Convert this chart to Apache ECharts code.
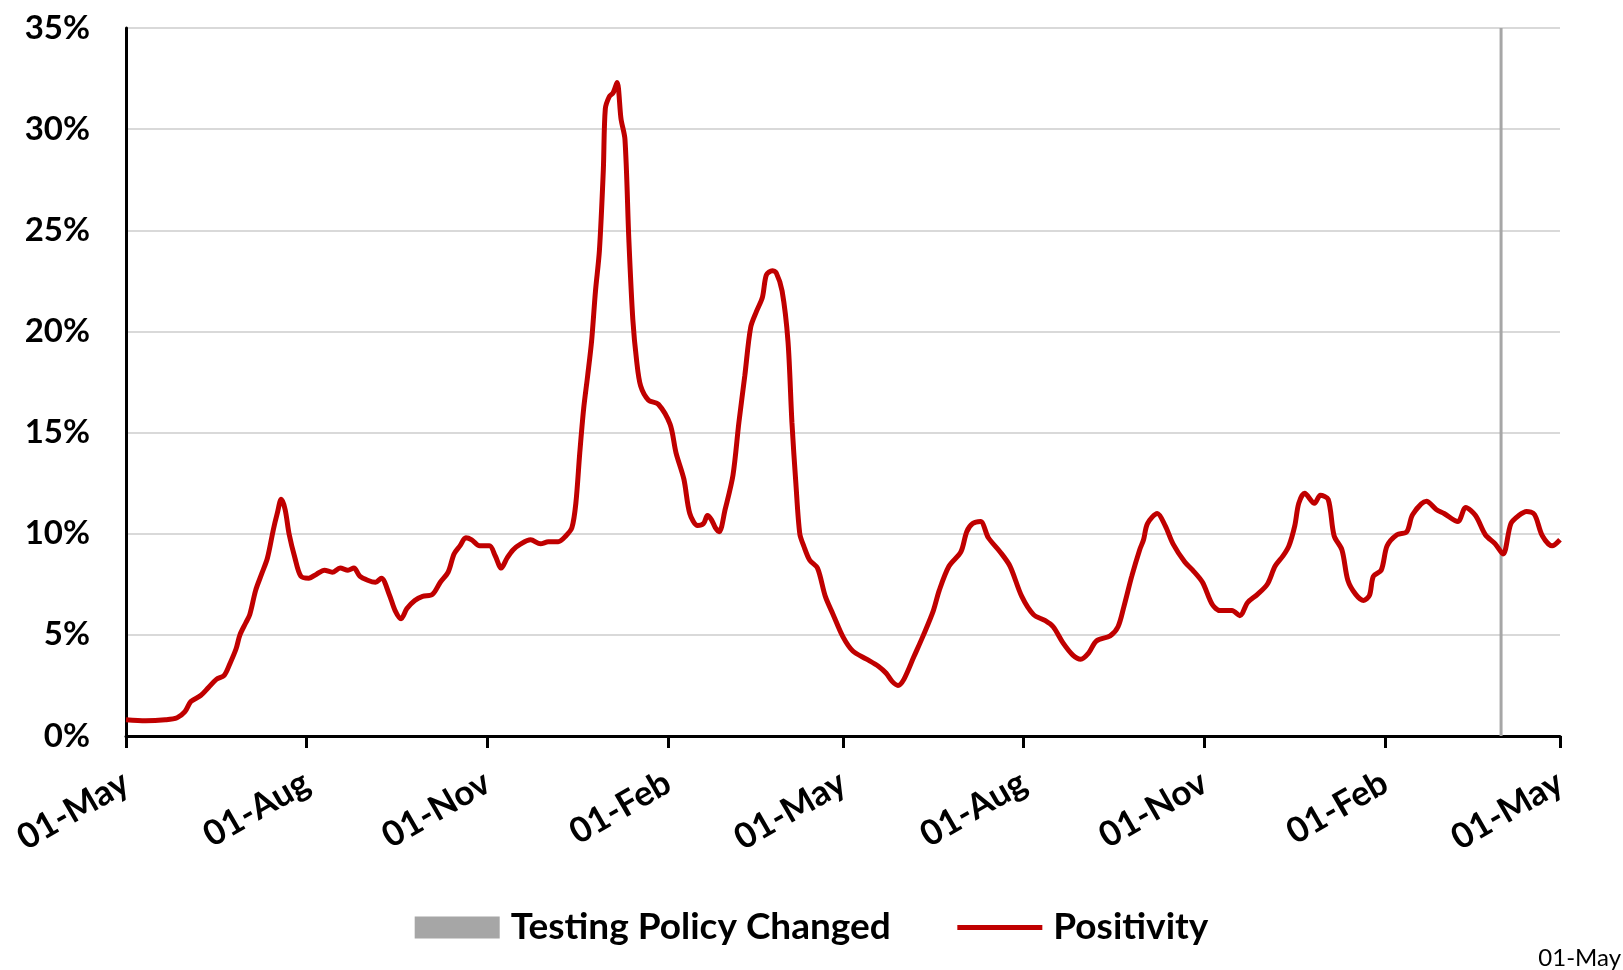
<!DOCTYPE html>
<html lang="en">
<head>
<meta charset="UTF-8">
<script src="https://cdn.jsdelivr.net/npm/echarts@6/dist/echarts.min.js"></script>
<title>Positivity</title>
<style>
    html, body { margin: 0; padding: 0; background: #fff; }
    #chart { width: 1623px; height: 970px; }
</style>
</head>
<body>
<div id="chart"></div>
<script type="text/javascript">
// daily positivity (%)
var dates = [
    '2020-05-01','2020-05-11','2020-05-21','2020-05-27','2020-05-31','2020-06-03','2020-06-08','2020-06-12',
    '2020-06-16','2020-06-20','2020-06-23','2020-06-26','2020-06-28','2020-07-01','2020-07-03','2020-07-06',
    '2020-07-09','2020-07-12','2020-07-15','2020-07-17','2020-07-19','2020-07-21','2020-07-23','2020-07-26',
    '2020-07-29','2020-08-02','2020-08-06','2020-08-10','2020-08-14','2020-08-18','2020-08-22','2020-08-25',
    '2020-08-28','2020-09-01','2020-09-05','2020-09-08','2020-09-12','2020-09-15','2020-09-18','2020-09-21',
    '2020-09-25','2020-09-29','2020-10-04','2020-10-08','2020-10-12','2020-10-15','2020-10-18','2020-10-21',
    '2020-10-24','2020-10-28','2020-11-02','2020-11-05','2020-11-08','2020-11-11','2020-11-14','2020-11-18',
    '2020-11-23','2020-11-28','2020-12-02','2020-12-07','2020-12-11','2020-12-14','2020-12-16','2020-12-18',
    '2020-12-20','2020-12-22','2020-12-24','2020-12-26','2020-12-28','2020-12-30','2020-12-31','2021-01-02',
    '2021-01-04','2021-01-06','2021-01-08','2021-01-10','2021-01-12','2021-01-14','2021-01-16','2021-01-18',
    '2021-01-22','2021-01-27','2021-02-02','2021-02-05','2021-02-09','2021-02-12','2021-02-16','2021-02-19',
    '2021-02-21','2021-02-23','2021-02-25','2021-02-27','2021-03-02','2021-03-06','2021-03-09','2021-03-12',
    '2021-03-15','2021-03-18','2021-03-21','2021-03-23','2021-03-26','2021-03-28','2021-03-31','2021-04-03',
    '2021-04-05','2021-04-07','2021-04-09','2021-04-11','2021-04-14','2021-04-18','2021-04-22','2021-04-26',
    '2021-05-01','2021-05-06','2021-05-13','2021-05-19','2021-05-23','2021-05-26','2021-05-29','2021-06-01',
    '2021-06-06','2021-06-11','2021-06-16','2021-06-19','2021-06-24','2021-06-30','2021-07-03','2021-07-06',
    '2021-07-10','2021-07-14','2021-07-20','2021-07-25','2021-07-31','2021-08-06','2021-08-12','2021-08-16',
    '2021-08-21','2021-08-26','2021-08-30','2021-09-03','2021-09-07','2021-09-14','2021-09-18','2021-09-21',
    '2021-09-25','2021-09-29','2021-10-01','2021-10-03','2021-10-08','2021-10-12','2021-10-16','2021-10-22',
    '2021-10-26','2021-10-31','2021-11-05','2021-11-09','2021-11-15','2021-11-19','2021-11-23','2021-11-28',
    '2021-12-03','2021-12-07','2021-12-11','2021-12-14','2021-12-17','2021-12-19','2021-12-22','2021-12-27',
    '2021-12-30','2022-01-03','2022-01-06','2022-01-10','2022-01-13','2022-01-17','2022-01-21','2022-01-24',
    '2022-01-26','2022-01-30','2022-02-02','2022-02-07','2022-02-12','2022-02-15','2022-02-22','2022-02-27',
    '2022-03-03','2022-03-10','2022-03-14','2022-03-19','2022-03-24','2022-03-29','2022-04-02','2022-04-06',
    '2022-04-10','2022-04-14','2022-04-18','2022-04-22','2022-04-27','2022-05-01'
];
var positivity = [
    0.8, 0.75, 0.8, 0.9, 1.2, 1.7, 2.0, 2.4,
    2.8, 3.0, 3.6, 4.3, 5.0, 5.6, 6.0, 7.2,
    8.0, 8.8, 10.2, 11.0, 11.7, 11.2, 10.0, 8.8,
    7.9, 7.8, 8.0, 8.2, 8.1, 8.3, 8.2, 8.3,
    7.9, 7.7, 7.6, 7.8, 7.0, 6.2, 5.8, 6.3,
    6.7, 6.9, 7.0, 7.6, 8.1, 9.0, 9.4, 9.8,
    9.7, 9.4, 9.4, 8.9, 8.3, 8.8, 9.2, 9.5,
    9.7, 9.5, 9.6, 9.6, 9.9, 10.3, 11.5, 14.0,
    16.2, 17.8, 19.5, 22.0, 24.0, 28.0, 31.0, 31.6,
    31.8, 32.3, 30.5, 29.5, 24.5, 20.6, 18.5, 17.3,
    16.6, 16.4, 15.4, 14.0, 12.7, 11.0, 10.4, 10.5,
    10.9, 10.7, 10.3, 10.1, 11.2, 12.9, 15.5, 17.8,
    20.2, 21.0, 21.7, 22.8, 23.0, 22.9, 22.0, 19.5,
    15.5, 12.5, 10.0, 9.4, 8.7, 8.3, 6.9, 6.0,
    4.9, 4.2, 3.8, 3.45, 3.1, 2.7, 2.5, 2.8,
    3.9, 5.0, 6.2, 7.2, 8.4, 9.1, 10.1, 10.5,
    10.6, 9.8, 9.1, 8.4, 6.9, 6.0, 5.7, 5.4,
    4.6, 4.0, 3.8, 4.1, 4.7, 4.95, 5.4, 6.4,
    7.9, 9.2, 9.7, 10.5, 11.0, 10.4, 9.5, 8.6,
    8.2, 7.6, 6.5, 6.2, 6.2, 5.95, 6.6, 7.0,
    7.5, 8.4, 8.9, 9.4, 10.4, 11.5, 12.0, 11.5,
    11.9, 11.7, 9.9, 9.2, 7.7, 7.0, 6.7, 6.95,
    7.9, 8.2, 9.4, 9.95, 10.1, 10.95, 11.6, 11.2,
    11.0, 10.6, 11.3, 10.9, 9.95, 9.5, 9.0, 10.5,
    10.9, 11.1, 10.95, 9.9, 9.4, 9.7
];
var policyDates = ['2022-04-01'];
var policyValues = [35];
var tickDates = ['2020-05-01','2020-08-01','2020-11-01','2021-02-01','2021-05-01',
    '2021-08-01','2021-11-01','2022-02-01','2022-05-01'];
var monthNames = ['Jan','Feb','Mar','Apr','May','Jun','Jul','Aug','Sep','Oct','Nov','Dec'];

function toTime(s) {
    var p = s.split('-');
    return new Date(+p[0], +p[1] - 1, +p[2]).getTime();
}

var font = 'Lato';
var chart = echarts.init(document.getElementById('chart'));

var lineData = dates.map(function (d, i) { return [toTime(d), positivity[i]]; });
var policyData = policyDates.map(function (d, i) { return [toTime(d), policyValues[i]]; });
var tickTimes = tickDates.map(toTime);

var option = {
    animation: false,
    backgroundColor: '#fff',
    grid: { left: 126, right: 63, top: 28, bottom: 234, containLabel: false },
    legend: {
        data: [
            { name: 'Testing Policy Changed', icon: 'rect' },
            { name: 'Positivity', itemStyle: { opacity: 0 }, lineStyle: { width: 5 } }
        ],
        left: 'center',
        top: 904,
        itemWidth: 85,
        itemHeight: 22,
        itemGap: 64,
        textStyle: { fontFamily: font, fontWeight: 'bold', fontSize: 37, color: '#000', padding: [0, 0, 0, 6] }
    },
    xAxis: {
        type: 'value',
        min: tickTimes[0],
        max: tickTimes[tickTimes.length - 1],
        axisLine: { lineStyle: { color: '#000', width: 3 } },
        axisTick: { show: true, customValues: tickTimes, length: 12, lineStyle: { color: '#000', width: 3 } },
        axisLabel: {
            customValues: tickTimes,
            rotate: 30,
            margin: 44,
            fontFamily: font,
            fontWeight: 'bold',
            fontSize: 35,
            color: '#000',
            formatter: function (v) {
                var d = new Date(v);
                return ('0' + d.getDate()).slice(-2) + '-' + monthNames[d.getMonth()];
            }
        },
        splitLine: { show: false }
    },
    yAxis: {
        type: 'value',
        min: 0,
        max: 35,
        interval: 5,
        axisLine: { show: true, lineStyle: { color: '#000', width: 3 } },
        axisTick: { show: false },
        axisLabel: {
            margin: 36,
            fontFamily: font,
            fontWeight: 'bold',
            fontSize: 33,
            color: '#000',
            formatter: '{value}%'
        },
        splitLine: { lineStyle: { color: '#d9d9d9', width: 2 } }
    },
    series: [
        {
            name: 'Testing Policy Changed',
            type: 'bar',
            data: policyData,
            barWidth: 3,
            itemStyle: { color: '#a6a6a6' },
            z: 1
        },
        {
            name: 'Positivity',
            type: 'line',
            data: lineData,
            symbol: 'none',
            smooth: 0.3,
            lineStyle: { color: '#c00000', width: 5 },
            itemStyle: { color: '#c00000' },
            z: 3
        }
    ],
    graphic: [
        {
            type: 'text',
            right: 2,
            top: 946,
            style: { text: '01-May', fontFamily: font, fontSize: 24, fill: '#000' }
        }
    ]
};
chart.setOption(option);
</script>
</body>
</html>
